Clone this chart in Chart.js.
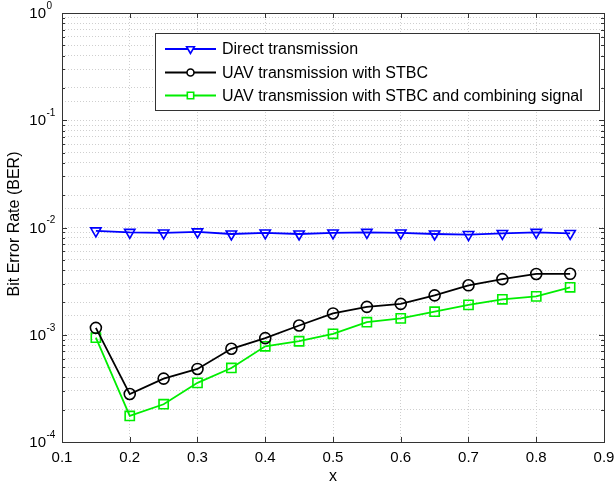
<!DOCTYPE html>
<html>
<head>
<meta charset="utf-8">
<script src="https://cdn.jsdelivr.net/npm/chart.js@4.4.1/dist/chart.umd.min.js"></script>
<style>
  html, body { margin: 0; padding: 0; background: #fff; }
  #wrap { position: relative; width: 616px; height: 489px; }
</style>
</head>
<body>
<div id="wrap"><canvas id="berChart" width="616" height="489"></canvas></div>
<script>
// ---- data ----
const xVals = [0.15, 0.2, 0.25, 0.3, 0.35, 0.4, 0.45, 0.5, 0.55, 0.6, 0.65, 0.7, 0.75, 0.8, 0.85];
const berDirect = [9.3e-3, 9.0e-3, 8.9e-3, 9.1e-3, 8.7e-3, 8.9e-3, 8.7e-3, 8.9e-3, 9.0e-3, 8.9e-3, 8.7e-3, 8.6e-3, 8.8e-3, 9.0e-3, 8.8e-3];
const berStbc = [1.16e-3, 2.8e-4, 3.9e-4, 4.8e-4, 7.4e-4, 9.3e-4, 1.22e-3, 1.58e-3, 1.82e-3, 1.94e-3, 2.33e-3, 2.89e-3, 3.3e-3, 3.69e-3, 3.7e-3];
const berCombined = [9.4e-4, 1.75e-4, 2.25e-4, 3.56e-4, 4.9e-4, 7.8e-4, 8.7e-4, 1.02e-3, 1.31e-3, 1.42e-3, 1.64e-3, 1.9e-3, 2.14e-3, 2.28e-3, 2.77e-3];

const seriesLabels = ["Direct transmission", "UAV transmission with STBC", "UAV transmission with STBC and combining signal"];
const xTicks = [0.1, 0.2, 0.3, 0.4, 0.5, 0.6, 0.7, 0.8, 0.9];
const yExponents = [0, -1, -2, -3, -4];
const xTitle = "x";
const yTitle = "Bit Error Rate (BER)";

const FAMILY = "'Liberation Sans', Arial, sans-serif";
const TICK_FONT = "15px " + FAMILY;
const EXP_FONT = "10px " + FAMILY;
const TITLE_FONT = "16px " + FAMILY;
const LEGEND_FONT = "16px " + FAMILY;

const pts = (ys) => xVals.map((x, i) => ({ x, y: ys[i] }));

const styles = [
  { color: "#0000ff", pointStyle: "triangle", rotation: 180, radius: 6, legendRadius: 4.5 },
  { color: "#000000", pointStyle: "circle", rotation: 0, radius: 5.5, legendRadius: 3.5 },
  { color: "#00ee00", pointStyle: "rect", rotation: 0, radius: 6.5, legendRadius: 4.5 },
];

const datasets = [berDirect, berStbc, berCombined].map((ys, i) => ({
  label: seriesLabels[i],
  data: pts(ys),
  borderColor: styles[i].color,
  backgroundColor: "rgba(0,0,0,0)",
  borderWidth: 1.8,
  pointStyle: styles[i].pointStyle,
  rotation: styles[i].rotation,
  pointRadius: styles[i].radius,
  pointBorderWidth: 1.6,
  pointBorderColor: styles[i].color,
  pointBackgroundColor: "rgba(0,0,0,0)",
  showLine: true,
  tension: 0,
}));

// axis box, inward ticks, labels with superscripts, legend
const decorations = {
  id: "decorations",
  afterDraw(chart) {
    const { ctx, chartArea: a, scales } = chart;
    const xs = scales.x, ys = scales.y;
    ctx.save();
    ctx.strokeStyle = "#333";
    ctx.lineWidth = 1;
    ctx.setLineDash([]);
    ctx.strokeRect(Math.round(a.left) + 0.5, Math.round(a.top) + 0.5, Math.round(a.right - a.left), Math.round(a.bottom - a.top));

    // x ticks
    ctx.beginPath();
    xTicks.forEach(v => {
      const px = Math.round(xs.getPixelForValue(v)) + 0.5;
      ctx.moveTo(px, a.bottom); ctx.lineTo(px, a.bottom - 5);
      ctx.moveTo(px, a.top); ctx.lineTo(px, a.top + 5);
    });
    // y ticks (major and minor)
    for (let e = -4; e <= 0; e++) {
      for (let m = 1; m <= 9; m++) {
        const v = m * Math.pow(10, e);
        if (v > 1) break;
        const py = Math.round(ys.getPixelForValue(v)) + 0.5;
        const len = m === 1 ? 5 : 3;
        ctx.moveTo(a.left, py); ctx.lineTo(a.left + len, py);
        ctx.moveTo(a.right, py); ctx.lineTo(a.right - len, py);
      }
    }
    ctx.stroke();

    // tick labels
    ctx.fillStyle = "#000";
    ctx.font = TICK_FONT;
    ctx.textAlign = "center";
    ctx.textBaseline = "middle";
    xTicks.forEach(v => ctx.fillText(v.toFixed(1), xs.getPixelForValue(v), a.bottom + 16));

    yExponents.forEach(e => {
      const py = ys.getPixelForValue(Math.pow(10, e));
      ctx.font = TICK_FONT;
      ctx.textAlign = "right";
      ctx.textBaseline = "middle";
      ctx.fillText("10", 46, py + 1);
      ctx.font = EXP_FONT;
      ctx.textAlign = "left";
      ctx.fillText(String(e), 46.5, py - 7);
    });

    // axis titles
    ctx.font = TITLE_FONT;
    ctx.textAlign = "center";
    ctx.textBaseline = "middle";
    ctx.fillText(xTitle, (a.left + a.right) / 2, 477);
    ctx.save();
    ctx.translate(15, 224);
    ctx.rotate(-Math.PI / 2);
    ctx.fillText(yTitle, 0, 0);
    ctx.restore();

    // legend
    const box = { l: 155.5, t: 33.5, r: 599.5, b: 110.5 };
    ctx.fillStyle = "#fff";
    ctx.fillRect(box.l, box.t, box.r - box.l, box.b - box.t);
    ctx.strokeStyle = "#333";
    ctx.lineWidth = 1;
    ctx.strokeRect(box.l, box.t, box.r - box.l, box.b - box.t);
    const rows = [49, 72.5, 95.5];
    chart.data.datasets.forEach((ds, i) => {
      const y = rows[i];
      ctx.strokeStyle = ds.borderColor;
      ctx.lineWidth = 1.8;
      ctx.beginPath();
      ctx.moveTo(165, y); ctx.lineTo(216, y);
      ctx.stroke();
      // hollow marker like the plot
      ctx.fillStyle = "#fff";
      ctx.lineWidth = 1.6;
      Chart.helpers.drawPoint(ctx, {
        pointStyle: styles[i].pointStyle,
        rotation: styles[i].rotation,
        radius: styles[i].legendRadius,
        borderWidth: 1.6,
      }, 190.5, y);
      ctx.fillStyle = "#000";
      ctx.font = LEGEND_FONT;
      ctx.textAlign = "left";
      ctx.textBaseline = "middle";
      ctx.fillText(ds.label, 222, y + 1);
    });
    ctx.restore();
  }
};

new Chart(document.getElementById("berChart"), {
  type: "scatter",
  data: { datasets },
  options: {
    responsive: false,
    animation: false,
    layout: { padding: { left: 62, right: 12, top: 13, bottom: 47 } },
    plugins: { legend: { display: false }, tooltip: { enabled: false } },
    scales: {
      x: {
        type: "linear",
        min: 0.1, max: 0.9,
        ticks: { display: false, stepSize: 0.1 },
        grid: { color: "#cfcfcf", lineWidth: 1, drawTicks: false },
        border: { display: false, dash: [1, 2] },
      },
      y: {
        type: "logarithmic",
        min: 1e-4, max: 1,
        ticks: { display: false },
        grid: { color: "#cfcfcf", lineWidth: 1, drawTicks: false },
        border: { display: false, dash: [1, 2] },
      },
    },
  },
  plugins: [decorations],
});
</script>
</body>
</html>
